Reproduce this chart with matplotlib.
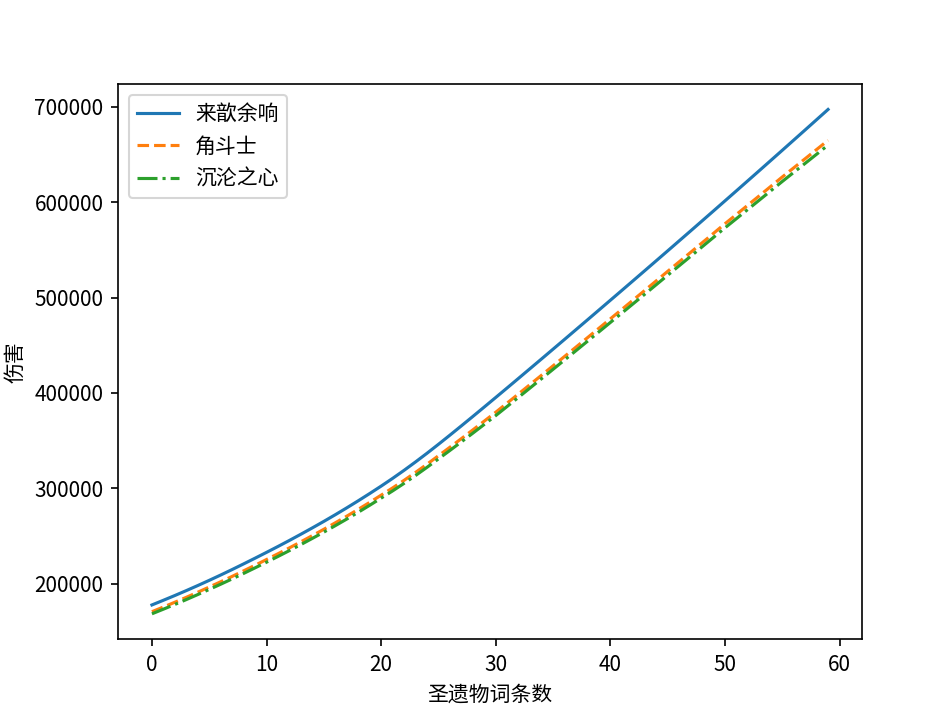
import matplotlib
matplotlib.use("Agg")
import matplotlib.pyplot as plt

plt.rcParams['font.family'] = ['Noto Sans CJK SC', 'DejaVu Sans']
plt.rcParams['axes.unicode_minus'] = False

# 圣遗物词条数 0..59
x = list(range(60))

# 来歆余响
laixin = [177600, 182500, 187500, 192650, 197950, 203400, 209000, 214750, 220650, 226650,
          232750, 238950, 245300, 251800, 258450, 265250, 272250, 279450, 286850, 294450,
          302250, 310350, 318800, 327600, 336700, 346100, 355700, 365450, 375300, 385250,
          395250, 405300, 415400, 425550, 435700, 445900, 456100, 466350, 476600, 486900,
          497200, 507500, 517850, 528200, 538600, 549000, 559450, 569900, 580400, 590900,
          601450, 612000, 622600, 633200, 643850, 654500, 665200, 675900, 686650, 697400]

# 角斗士
jiaodoushi = [170500, 175420, 180440, 185610, 190930, 196400, 201900, 207550, 213350, 219250,
              225250, 231300, 237500, 243850, 250350, 256950, 263750, 270700, 277850, 285200,
              292750, 300350, 308300, 316600, 325200, 334100, 343000, 352050, 361200, 370450,
              379750, 389400, 399100, 408850, 418600, 428400, 438200, 448050, 457900, 467800,
              477700, 487600, 497550, 507500, 517500, 527500, 537450, 547400, 557400, 567400,
              577450, 587200, 597000, 606800, 616650, 626500, 636100, 645700, 655350, 665000]

# 沉沦之心
chenlun = [168300, 173160, 178120, 183230, 188490, 193900, 199340, 204930, 210670, 216510,
           222450, 228470, 234640, 240960, 247430, 254000, 260770, 267690, 274810, 282130,
           289650, 297210, 305120, 313380, 321940, 330800, 339660, 348670, 357780, 366990,
           376250, 385870, 395540, 405260, 414980, 424750, 434520, 444340, 454160, 464030,
           473900, 483750, 493650, 503550, 513500, 523450, 533350, 543250, 553200, 563150,
           573150, 582820, 592540, 602260, 612030, 621800, 631320, 640840, 650410, 660000]

fig, ax = plt.subplots(figsize=(6.3001, 4.7601), dpi=150)
fig.subplots_adjust(left=0.125, right=0.912, bottom=0.105, top=0.882)

ax.plot(x, laixin, '-', label='来歆余响')
ax.plot(x, jiaodoushi, '--', label='角斗士')
ax.plot(x, chenlun, '-.', label='沉沦之心')

ax.set_xlabel('圣遗物词条数')
ax.set_ylabel('伤害')
ax.legend(loc='upper left')

fig.savefig('out.png', dpi=150)
